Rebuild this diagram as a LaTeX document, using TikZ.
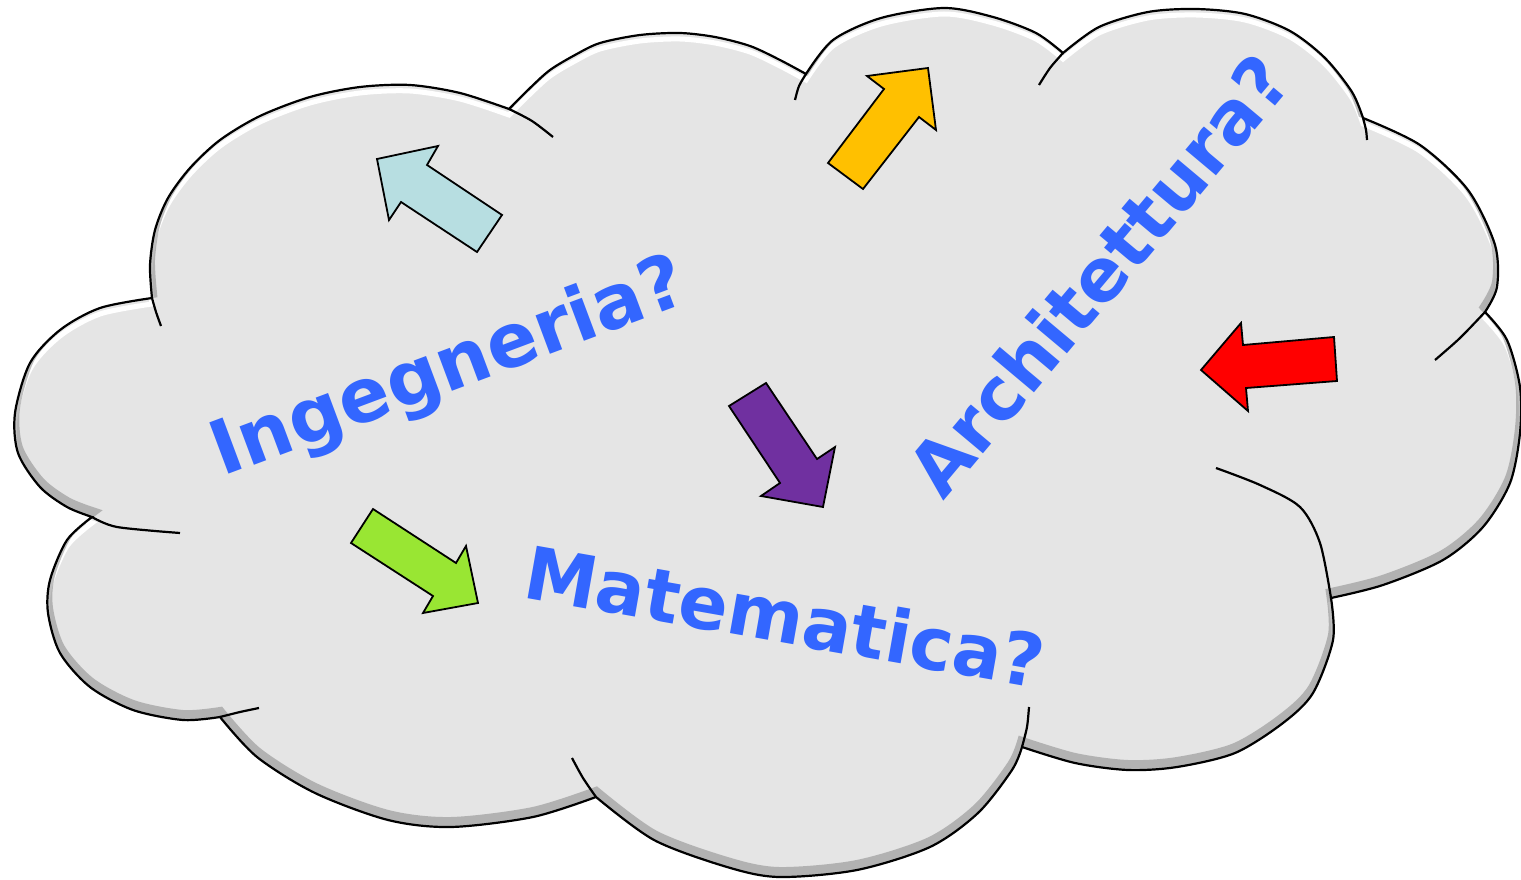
\documentclass[tikz,border=0pt]{standalone}
\usepackage{fontspec}
\setmainfont{DejaVu Sans}

\definecolor{cloudgray}{HTML}{E5E5E5}
\definecolor{qblue}{HTML}{3366FF}
\definecolor{arrowcyan}{HTML}{B7DEE1}
\definecolor{arrowyellow}{HTML}{FFC000}
\definecolor{arrowred}{HTML}{FF0000}
\definecolor{arrowpurple}{HTML}{7030A0}
\definecolor{arrowgreen}{HTML}{99E633}

\tikzset{
  blockarrow/.style={draw=black,line width=1.8pt,line join=miter},
  question/.style={text=qblue,font=\fontsize{73}{80}\selectfont\bfseries,
    inner sep=0pt,anchor=base west},
  cloudline/.style={black,line width=2.2pt},
}

% outline of the cloud, one smooth plot per bump
\newcommand{\cloudpath}{%
  plot[smooth] coordinates {(152,298) (150,265) (155,230) (168,198) (190,168)
    (220,140) (260,116) (310,97) (360,87) (410,85) (460,93) (509,109)}
  -- plot[smooth] coordinates {(509,109) (530,88) (550,70) (575,55) (600,43)
    (640,35) (680,33) (715,37) (750,46) (780,60) (806,74)}
  -- plot[smooth] coordinates {(806,74) (833,40) (881,18) (944,8) (993,17)
    (1036,33) (1063,53)}
  -- plot[smooth] coordinates {(1063,53) (1099,27) (1148,12) (1196,9) (1245,14)
    (1290,31) (1325,58) (1352,92) (1363,118)}
  -- plot[smooth] coordinates {(1363,118) (1420,145) (1468,190) (1495,245)
    (1497,287) (1485,312)}
  -- plot[smooth] coordinates {(1485,312) (1507,340) (1520,387) (1520,433)
    (1510,483) (1483,527) (1443,560) (1383,585) (1331,598)}
  -- plot[smooth] coordinates {(1331,598) (1333,640) (1313,693) (1283,723)
    (1235,753) (1177,767) (1128,770) (1075,763) (1022,747)}
  -- plot[smooth] coordinates {(1022,747) (1012,770) (978,813) (930,847)
    (857,870) (779,877) (727,867) (654,840) (596,797)}
  -- plot[smooth] coordinates {(596,797) (533,817) (451,827) (388,820)
    (315,793) (257,757) (220,717)}
  -- plot[smooth] coordinates {(220,717) (183,720) (133,710) (90,687) (60,653)
    (48,613) (50,580) (67,540) (92,517)}
  -- plot[smooth] coordinates {(92,517) (67,507) (40,487) (18,453) (15,413)
    (30,363) (60,330) (100,308) (152,298)}
  -- cycle}

\begin{document}
\begin{tikzpicture}[x=1pt,y=-1pt]

\useasboundingbox (0,0) rectangle (1521,880);

% Cloud
\fill[cloudgray] \cloudpath;
\begin{scope}
  \clip \cloudpath;
  \draw[white,line width=5pt,shift={(0,6)}] \cloudpath;
  \draw[black!50,opacity=.5,line width=10pt,shift={(0,-5)}] \cloudpath;
\end{scope}
\draw[cloudline] \cloudpath;

% inner ends of the bumps
\draw[cloudline] plot[smooth] coordinates {(152,298) (156,312) (161,326)};
\draw[cloudline] plot[smooth] coordinates {(92,517) (117,527) (180,533)};
\draw[cloudline] plot[smooth] coordinates {(220,717) (240,712) (259,708)};
\draw[cloudline] plot[smooth] coordinates {(596,797) (583,778) (572,758)};
\draw[cloudline] plot[smooth] coordinates {(1022,747) (1027,727) (1029,707)};
\draw[cloudline] plot[smooth] coordinates {(1331,598) (1320,543) (1300,507)
  (1260,485) (1216,468)};
\draw[cloudline] plot[smooth] coordinates {(1485,312) (1460,338) (1435,360)};
\draw[cloudline] plot[smooth] coordinates {(1363,118) (1366,130) (1367,140)};
\draw[cloudline] plot[smooth] coordinates {(1063,53) (1050,68) (1039,85)};
\draw[cloudline] plot[smooth] coordinates {(806,74) (799,86) (795,100)};
\draw[cloudline] plot[smooth] coordinates {(509,109) (532,121) (553,137)};

% Arrows
\filldraw[blockarrow,fill=arrowcyan]
  (377,159) -- (438,146) -- (427,165) -- (502,215) -- (477,252)
  -- (401,202) -- (389,220) -- cycle;
\filldraw[blockarrow,fill=arrowyellow]
  (928,68) -- (936,130) -- (919,117) -- (863,189) -- (828,163)
  -- (884,89) -- (867,76) -- cycle;
\filldraw[blockarrow,fill=arrowred]
  (1201,370) -- (1241,323) -- (1243,345) -- (1334,337) -- (1337,381)
  -- (1246,388) -- (1248,411) -- cycle;
\filldraw[blockarrow,fill=arrowpurple]
  (729,406) -- (766,383) -- (817,459) -- (835,447) -- (823,507)
  -- (761,496) -- (780,483) -- cycle;
\filldraw[blockarrow,fill=arrowgreen]
  (373,509) -- (456,563) -- (466,546) -- (478,603) -- (423,613)
  -- (433,596) -- (351,543) -- cycle;

% Labels
\node[question,rotate=20.5,font=\fontsize{75}{80}\selectfont\bfseries]
  (ing) at (222,477) {Ingegneria?};
\node[question,rotate=-10] (mat) at (521,597) {Matematica?};
\node[question,rotate=50] (arch) at (943,502) {Architettura?};

\end{tikzpicture}
\end{document}
